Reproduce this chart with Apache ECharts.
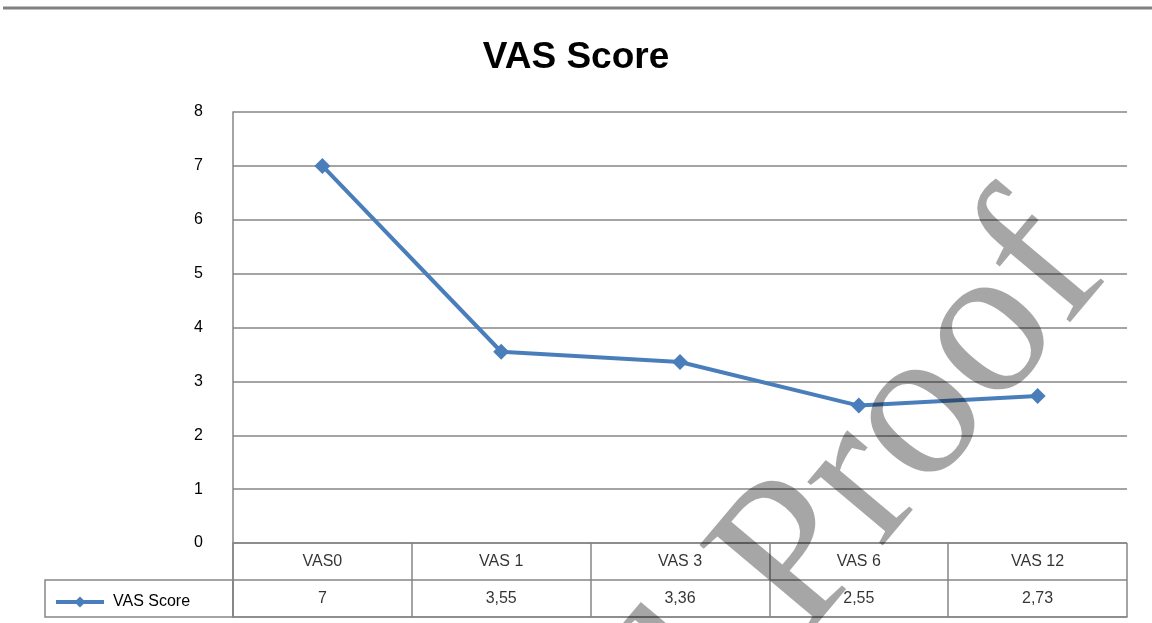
<!DOCTYPE html>
<html>
<head>
<meta charset="utf-8">
<title>VAS Score</title>
<script src="https://cdn.jsdelivr.net/npm/echarts@6/dist/echarts.min.js"></script>
<style>
  html, body { margin: 0; padding: 0; background: #fff; }
  #chart { width: 1152px; height: 623px; }
</style>
</head>
<body>
<div id="chart"></div>
<script>
// data
var categories = ['VAS0', 'VAS 1', 'VAS 3', 'VAS 6', 'VAS 12']
var vasScore = [7, 3.55, 3.36, 2.55, 2.73]
var yTicks = { min: 0, max: 8, interval: 1 }
var seriesName = 'VAS Score'

var gridColor = '#868686'
var lineColor = '#4a7ebb'
var font = "'Liberation Sans', 'DejaVu Sans', sans-serif"

// decimal comma like the source table
function fmt(v) {
  return String(v).replace('.', ',')
}

// table cell labels, built from the arrays
var tableCells = []
categories.forEach(function(c, i) {
  tableCells.push({ value: [i, 'head'], label: { formatter: c } })
  tableCells.push({ value: [i, 'val'], label: { formatter: fmt(vasScore[i]) } })
})

var chart = echarts.init(document.getElementById('chart'), null, { renderer: 'canvas' })

chart.setOption({
  animation: false,
  backgroundColor: '#fff',
  title: {
    text: 'VAS Score',
    left: 'center',
    top: 34,
    textStyle: {
      fontFamily: "'Liberation Sans Narrow', 'Liberation Sans', sans-serif",
      fontWeight: 'bold',
      fontSize: 37,
      color: '#000'
    }
  },
  legend: {
    data: [seriesName],
    left: 49,
    top: 589,
    itemWidth: 48,
    itemHeight: 14,
    itemGap: 4,
    lineStyle: { width: 4 },
    textStyle: { fontFamily: font, fontSize: 16, color: '#000', padding: [0, 0, 0, 4] }
  },
  grid: [
    { left: 233, right: 25, top: 112, bottom: 80 },
    { left: 233, right: 25, top: 543, bottom: 6 }
  ],
  xAxis: [
    {
      gridIndex: 0,
      type: 'category',
      data: categories,
      boundaryGap: true,
      axisLine: { show: false },
      axisTick: { show: false },
      axisLabel: { show: false }
    },
    {
      gridIndex: 1,
      type: 'category',
      data: categories,
      boundaryGap: true,
      axisLine: { show: true, lineStyle: { color: gridColor, width: 1.5 } },
      axisTick: { show: false },
      axisLabel: { show: false },
      splitLine: { show: true, lineStyle: { color: gridColor, width: 1.5 } }
    }
  ],
  yAxis: [
    {
      gridIndex: 0,
      type: 'value',
      min: yTicks.min,
      max: yTicks.max,
      interval: yTicks.interval,
      axisLine: { show: true, lineStyle: { color: gridColor, width: 1.5 } },
      axisTick: { show: false },
      axisLabel: { margin: 30, fontFamily: font, fontSize: 16, color: '#000' },
      splitLine: { show: true, lineStyle: { color: gridColor, width: 1.5 } }
    },
    {
      gridIndex: 1,
      type: 'category',
      data: ['val', 'head'],
      boundaryGap: true,
      axisLine: { show: true, lineStyle: { color: gridColor, width: 1.5 } },
      axisTick: { show: false },
      axisLabel: { show: false },
      splitLine: { show: true, lineStyle: { color: gridColor, width: 1.5 } }
    }
  ],
  series: [
    {
      name: seriesName,
      type: 'line',
      xAxisIndex: 0,
      yAxisIndex: 0,
      data: vasScore,
      symbol: 'diamond',
      symbolSize: 16,
      itemStyle: { color: lineColor },
      lineStyle: { color: lineColor, width: 4 },
      z: 3
    },
    {
      type: 'scatter',
      xAxisIndex: 1,
      yAxisIndex: 1,
      data: tableCells,
      symbolSize: 0,
      silent: true,
      label: {
        show: true,
        position: 'inside',
        fontFamily: font,
        fontSize: 16,
        color: '#000'
      }
    }
  ],
  graphic: [
    // page rule at the top
    {
      type: 'line',
      shape: { x1: 3, y1: 8, x2: 1152, y2: 8 },
      style: { stroke: '#808080', lineWidth: 3 }
    },
    // legend cell of the data table
    {
      type: 'rect',
      shape: { x: 45, y: 580, width: 188, height: 37 },
      style: { fill: 'none', stroke: gridColor, lineWidth: 1.5 }
    },
    // watermark, anchored at the end of the word so the start runs off the page
    {
      type: 'text',
      x: 1067,
      y: 238,
      rotation: 50 * Math.PI / 180,
      z: 100,
      silent: true,
      style: {
        text: 'Journal Proof',
        font: "215px 'Liberation Serif', 'DejaVu Serif', serif",
        fill: 'rgba(0,0,0,0.35)',
        align: 'right',
        verticalAlign: 'middle'
      }
    }
  ]
})
</script>
</body>
</html>
